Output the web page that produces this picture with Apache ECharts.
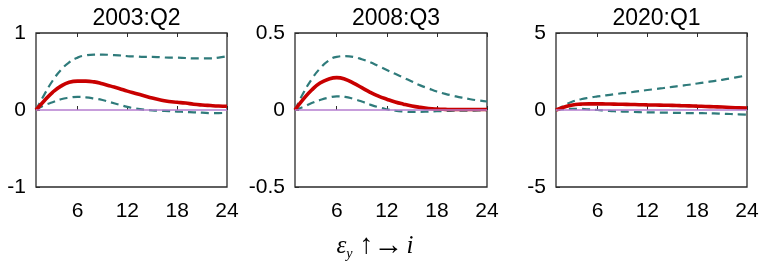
<!DOCTYPE html>
<html>
<head>
<meta charset="utf-8">
<script src="https://cdn.jsdelivr.net/npm/echarts@6/dist/echarts.min.js"></script>
<style>
  html, body { margin: 0; padding: 0; background: #fff; }
  #chart { width: 765px; height: 268px; }
</style>
</head>
<body>
<div id="chart"></div>
<script>
// horizons (quarters)
const horizons = [1, 2, 3, 4, 5, 6, 7, 8, 9, 10, 11, 12, 13, 14, 15, 16, 17, 18, 19, 20, 21, 22, 23, 24];
const xTicks = [6, 12, 18, 24];

const panelTitles = ['2003:Q2', '2008:Q3', '2020:Q1'];
const yLimits = [[-1, 1, 1], [-0.5, 0.5, 0.5], [-5, 5, 5]];

// 2003:Q2
const median2003 = [0, 0.12, 0.23, 0.31, 0.36, 0.375, 0.375, 0.365, 0.34, 0.31, 0.28, 0.245, 0.215, 0.185, 0.155, 0.13, 0.11, 0.1, 0.09, 0.075, 0.065, 0.058, 0.052, 0.048];
const upper2003 = [0, 0.2, 0.38, 0.52, 0.62, 0.68, 0.71, 0.72, 0.72, 0.715, 0.71, 0.7, 0.695, 0.69, 0.69, 0.685, 0.68, 0.68, 0.675, 0.67, 0.67, 0.67, 0.68, 0.7];
const lower2003 = [0, 0.06, 0.1, 0.14, 0.16, 0.17, 0.165, 0.15, 0.13, 0.1, 0.07, 0.04, 0.02, 0.005, -0.005, -0.01, -0.015, -0.02, -0.025, -0.03, -0.035, -0.04, -0.04, -0.035];

// 2008:Q3
const median2008 = [0, 0.07, 0.13, 0.175, 0.2, 0.21, 0.2, 0.175, 0.145, 0.115, 0.09, 0.07, 0.052, 0.038, 0.026, 0.017, 0.01, 0.006, 0.004, 0.003, 0.003, 0.003, 0.003, 0.003];
const upper2008 = [0, 0.11, 0.2, 0.27, 0.32, 0.345, 0.35, 0.345, 0.33, 0.31, 0.285, 0.26, 0.235, 0.21, 0.185, 0.16, 0.14, 0.12, 0.105, 0.092, 0.08, 0.07, 0.062, 0.055];
const lower2008 = [0, 0.02, 0.045, 0.065, 0.08, 0.088, 0.085, 0.072, 0.055, 0.035, 0.018, 0.005, -0.005, -0.01, -0.012, -0.012, -0.01, -0.008, -0.006, -0.005, -0.004, -0.004, -0.003, -0.003];

// 2020:Q1
const median2020 = [0, 0.2, 0.33, 0.38, 0.4, 0.4, 0.39, 0.38, 0.37, 0.36, 0.345, 0.33, 0.32, 0.31, 0.3, 0.285, 0.27, 0.25, 0.23, 0.21, 0.19, 0.16, 0.14, 0.12];
const upper2020 = [0, 0.3, 0.55, 0.7, 0.8, 0.88, 0.95, 1.02, 1.09, 1.15, 1.22, 1.3, 1.36, 1.43, 1.5, 1.57, 1.64, 1.72, 1.8, 1.88, 1.96, 2.05, 2.15, 2.25];
const lower2020 = [0, 0.05, 0.08, 0.07, 0.04, 0, -0.04, -0.08, -0.1, -0.12, -0.14, -0.15, -0.16, -0.17, -0.18, -0.19, -0.2, -0.2, -0.21, -0.22, -0.24, -0.26, -0.28, -0.3];

const medians = [median2003, median2008, median2020];
const uppers = [upper2003, upper2008, upper2020];
const lowers = [lower2003, lower2008, lower2020];

const grids = [
  { left: 36, top: 33, width: 191, height: 154 },
  { left: 295, top: 33, width: 192, height: 154 },
  { left: 556, top: 33, width: 191, height: 154 }
];

const font = 'Liberation Sans, Arial, sans-serif';
const serif = 'Liberation Serif, Times New Roman, serif';
const boxColor = '#2b2b2b';

const pairs = (vals) => horizons.map((h, i) => [h, vals[i]]);

const myChart = echarts.init(document.getElementById('chart'), null, { renderer: 'canvas' });

const title = panelTitles.map((t, i) => ({
  text: t,
  left: grids[i].left + grids[i].width / 2,
  textAlign: 'center',
  top: 2,
  textStyle: { fontFamily: font, fontSize: 23, fontWeight: 'normal', color: '#000' }
}));
// bottom label: epsilon_y up -> i
title.push({
  text: '{e|ε}{s|y}{a| ↑}{b|→}{i|i}',
  left: 370,
  textAlign: 'center',
  top: 226,
  textStyle: {
    fontWeight: 'normal',
    rich: {
      e: { fontFamily: serif, fontStyle: 'italic', fontWeight: 'normal', fontSize: 25, color: '#000' },
      s: { fontFamily: serif, fontStyle: 'italic', fontWeight: 'normal', fontSize: 14, color: '#000', padding: [16, 0, 0, 0] },
      a: { fontFamily: serif, fontWeight: 'normal', fontSize: 28, color: '#000' },
      b: { fontFamily: serif, fontWeight: 'normal', fontSize: 30, color: '#000' },
      i: { fontFamily: serif, fontStyle: 'italic', fontWeight: 'normal', fontSize: 25, color: '#000', padding: [0, 0, 0, 3] }
    }
  }
});

const xAxis = [];
const yAxis = [];
const series = [];
grids.forEach((g, i) => {
  xAxis.push({
    type: 'value', gridIndex: i, min: 1, max: 24,
    axisLine: { show: false },
    axisTick: { show: true, inside: true, length: 4, customValues: xTicks, lineStyle: { color: boxColor } },
    axisLabel: { customValues: xTicks, fontFamily: font, fontSize: 21, color: '#000', margin: 14 },
    splitLine: { show: false }
  });
  xAxis.push({
    type: 'value', gridIndex: i, min: 1, max: 24, position: 'top',
    axisLine: { show: false },
    axisTick: { show: true, inside: true, length: 4, customValues: xTicks, lineStyle: { color: boxColor } },
    axisLabel: { show: false },
    splitLine: { show: false }
  });
  yAxis.push({
    type: 'value', gridIndex: i,
    min: yLimits[i][0], max: yLimits[i][1], interval: yLimits[i][2],
    axisLine: { show: false },
    axisTick: { show: true, inside: true, length: 4, lineStyle: { color: boxColor } },
    axisLabel: { fontFamily: font, fontSize: 21, color: '#000', margin: 10 },
    splitLine: { show: false }
  });
  series.push({
    type: 'line', xAxisIndex: i * 2, yAxisIndex: i,
    data: pairs(lowers[i]), showSymbol: false, smooth: true,
    lineStyle: { color: '#2f7b7b', width: 2.2, type: [8, 5] },
    markLine: {
      silent: true, symbol: 'none', label: { show: false },
      lineStyle: { color: '#b47ccf', width: 1.6, type: 'solid' },
      data: [{ yAxis: 0 }]
    },
    z: 2
  });
  series.push({
    type: 'line', xAxisIndex: i * 2, yAxisIndex: i,
    data: pairs(uppers[i]), showSymbol: false, smooth: true,
    lineStyle: { color: '#2f7b7b', width: 2.2, type: [8, 5] },
    z: 3
  });
  series.push({
    type: 'line', xAxisIndex: i * 2, yAxisIndex: i,
    data: pairs(medians[i]), showSymbol: false, smooth: true,
    lineStyle: { color: '#c80000', width: 3.6 },
    z: 4
  });
});

const option = {
  animation: false,
  backgroundColor: '#fff',
  title: title,
  grid: grids.map(g => Object.assign({ show: true, borderColor: boxColor, borderWidth: 1.3, backgroundColor: 'transparent' }, g)),
  xAxis: xAxis,
  yAxis: yAxis,
  series: series
};
myChart.setOption(option);
</script>
</body>
</html>
